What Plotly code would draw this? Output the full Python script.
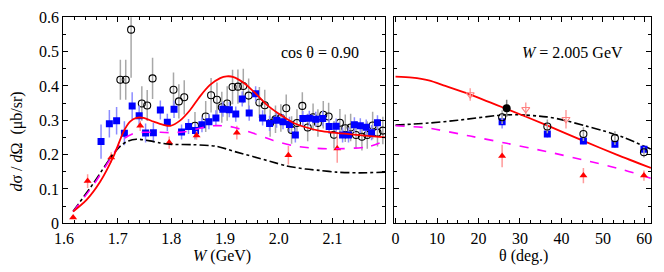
import plotly.graph_objects as go

# ---------------- Left panel data (cos theta = 0.90) ----------------
W_sq = [1.669, 1.6845, 1.698, 1.7125, 1.727, 1.740, 1.752, 1.7665, 1.7795, 1.7925, 1.805, 1.819,
        1.832, 1.845, 1.857, 1.870, 1.883, 1.896, 1.908, 1.920, 1.932, 1.945, 1.957, 1.970, 1.983,
        1.996, 2.008, 2.020, 2.031, 2.045, 2.057, 2.069, 2.082, 2.094, 2.107, 2.119, 2.130, 2.141,
        2.152, 2.163, 2.173, 2.184]
sig_sq = [0.238, 0.290, 0.299, 0.262, 0.342, 0.313, 0.263, 0.264, 0.330, 0.294, 0.332, 0.266,
          0.282, 0.270, 0.287, 0.296, 0.307, 0.332, 0.331, 0.318, 0.362, 0.321, 0.377, 0.307, 0.291,
          0.300, 0.296, 0.288, 0.257, 0.305, 0.306, 0.303, 0.305, 0.282, 0.283, 0.257, 0.257, 0.287,
          0.284, 0.280, 0.264, 0.293]
err_sq = [0.05, 0.04, 0.04, 0.035, 0.04, 0.03, 0.028, 0.028, 0.028, 0.025, 0.025, 0.022,
          0.022, 0.022, 0.022, 0.022, 0.022, 0.022, 0.022, 0.022, 0.022, 0.022, 0.022, 0.022, 0.022,
          0.022, 0.022, 0.022, 0.022, 0.022, 0.022, 0.022, 0.022, 0.022, 0.022, 0.022, 0.022, 0.022,
          0.022, 0.022, 0.022, 0.022]

W_ci = [1.705, 1.715, 1.725, 1.745, 1.755, 1.765, 1.804, 1.814, 1.824, 1.844, 1.864, 1.874,
        1.885, 1.894, 1.904, 1.914, 1.924, 1.934, 1.944, 1.964, 1.974, 1.984, 1.994, 2.004, 2.014,
        2.024, 2.034, 2.044, 2.054, 2.064, 2.073, 2.083, 2.093, 2.103, 2.114, 2.124, 2.134, 2.144,
        2.155, 2.165, 2.175, 2.184, 2.194]
sig_ci = [0.418, 0.418, 0.564, 0.349, 0.343, 0.422, 0.389, 0.355, 0.367, 0.284, 0.311, 0.373,
          0.360, 0.338, 0.349, 0.397, 0.398, 0.400, 0.372, 0.352, 0.344, 0.292, 0.303, 0.307, 0.335,
          0.272, 0.292, 0.342, 0.279, 0.309, 0.292, 0.316, 0.311, 0.258, 0.293, 0.277, 0.279, 0.257,
          0.252, 0.257, 0.285, 0.264, 0.270]
err_ci = [0.058, 0.058, 0.14, 0.05, 0.045, 0.06, 0.05, 0.05, 0.05, 0.04, 0.045, 0.05,
          0.05, 0.045, 0.05, 0.05, 0.05, 0.05, 0.05, 0.045, 0.045, 0.04, 0.04, 0.04, 0.04,
          0.04, 0.04, 0.04, 0.04, 0.04, 0.04, 0.04, 0.04, 0.04, 0.04, 0.04, 0.04, 0.04,
          0.04, 0.04, 0.04, 0.04, 0.04]

W_tr = [1.617, 1.644, 1.688, 1.742, 1.796, 1.847, 1.922, 2.018, 2.109]
sig_tr = [0.017, 0.123, 0.192, 0.284, 0.235, 0.256, 0.264, 0.198, 0.218]
err_tr = [0.0, 0.02, 0.015, 0.015, 0.018, 0.013, 0.02, 0.027, 0.042]

# Model curves (left)
W_red = [1.617, 1.642, 1.667, 1.692, 1.711, 1.723, 1.735, 1.748, 1.767, 1.785, 1.798, 1.816, 1.835,
         1.853, 1.872, 1.891, 1.903, 1.916, 1.934, 1.953, 1.978, 2.003, 2.027, 2.052, 2.077, 2.102,
         2.15, 2.198]
sig_red = [0.034, 0.068, 0.12, 0.194, 0.267, 0.296, 0.307, 0.307, 0.296, 0.287, 0.284, 0.299, 0.330,
           0.369, 0.403, 0.423, 0.428, 0.426, 0.410, 0.384, 0.345, 0.316, 0.293, 0.279, 0.269, 0.264,
           0.257, 0.250]
W_mag = [1.617, 1.655, 1.689, 1.711, 1.73, 1.748, 1.78, 1.80, 1.83, 1.853, 1.878, 1.909, 1.953, 1.99,
         2.027, 2.065, 2.108, 2.166, 2.198]
sig_mag = [0.034, 0.112, 0.194, 0.245, 0.262, 0.265, 0.265, 0.264, 0.268, 0.277, 0.284, 0.282, 0.262,
           0.241, 0.226, 0.219, 0.217, 0.223, 0.240]
W_blk = [1.617, 1.655, 1.689, 1.705, 1.72, 1.735, 1.76, 1.779, 1.80, 1.841, 1.885, 1.92, 1.953, 1.985,
         2.015, 2.05, 2.077, 2.108, 2.15, 2.198]
sig_blk = [0.035, 0.117, 0.196, 0.225, 0.240, 0.245, 0.240, 0.234, 0.230, 0.229, 0.224, 0.208, 0.194,
           0.180, 0.167, 0.158, 0.154, 0.149, 0.147, 0.149]

# ---------------- Right panel data (W = 2.005 GeV) ----------------
th_pk = [18.0, 31.4, 41.1]
sig_pk = [0.375, 0.332, 0.303]
err_pk = [0.018, 0.02, 0.027]
th_fc = [26.8]
sig_fc = [0.335]
err_fc = [0.025]
th_ci = [25.7, 36.6, 45.3, 52.9, 59.9]
sig_ci2 = [0.309, 0.282, 0.260, 0.248, 0.207]
err_ci2 = [0.02, 0.02, 0.02, 0.02, 0.015]
th_sq = [25.7, 36.6, 45.3, 52.9, 59.9]
sig_sq2 = [0.296, 0.260, 0.240, 0.230, 0.216]
err_sq2 = [0.02, 0.01, 0.01, 0.01, 0.01]
th_tr = [25.7, 45.3, 59.9]
sig_tr2 = [0.196, 0.139, 0.139]
err_tr2 = [0.033, 0.022, 0.015]

th_red = [0, 4, 8, 12, 18, 26.8, 36.4, 45.3, 53.3, 61.6]
sig_red2 = [0.427, 0.424, 0.416, 0.400, 0.375, 0.333, 0.286, 0.240, 0.200, 0.161]
th_blk = [0, 8, 15, 25.5, 30, 36.4, 40, 46, 50, 55, 61.6]
sig_blk2 = [0.286, 0.292, 0.300, 0.315, 0.316, 0.310, 0.302, 0.283, 0.270, 0.250, 0.216]
th_mag = [0, 7.5, 18, 26.8, 36.4, 46.9, 54.9, 61.6]
sig_mag2 = [0.284, 0.278, 0.254, 0.233, 0.209, 0.180, 0.156, 0.131]

FONT = "Liberation Serif"
RED = "#ff0000"
MAG = "#ff00ff"
BLUE = "#0000ff"

fig = go.Figure()


def line(x, y, color, dash, xa, ya, width=1.6):
    fig.add_trace(go.Scatter(x=x, y=y, mode="lines", xaxis=xa, yaxis=ya,
                             line=dict(color=color, width=width, dash=dash, shape="spline", smoothing=0.8),
                             hoverinfo="skip", showlegend=False))


def pts(x, y, e, symbol, color, ecolor, xa, ya, size=7, lw=1.0, lcolor=None):
    fig.add_trace(go.Scatter(x=x, y=y, mode="markers", xaxis=xa, yaxis=ya,
                             marker=dict(symbol=symbol, size=size, color=color,
                                         line=dict(width=lw, color=lcolor if lcolor else color)),
                             error_y=dict(type="data", array=e, visible=True, color=ecolor,
                                          thickness=1.5, width=0),
                             showlegend=False))


# left panel
pts(W_ci, sig_ci, err_ci, "circle-open", "black", "#a8a8a8", "x", "y", size=7, lw=1.1)
pts(W_sq, sig_sq, err_sq, "square", BLUE, "#8c8cff", "x", "y", size=7, lw=0)
pts(W_tr, sig_tr, err_tr, "triangle-up", RED, "#ff9a9a", "x", "y", size=7, lw=0)
line(W_blk, sig_blk, "black", "dashdot", "x", "y")
line(W_mag, sig_mag, MAG, "dash", "x", "y")
line(W_red, sig_red, RED, "solid", "x", "y", width=1.8)

# right panel
line(th_blk, sig_blk2, "black", "dashdot", "x2", "y2")
line(th_mag, sig_mag2, MAG, "dash", "x2", "y2")
line(th_red, sig_red2, RED, "solid", "x2", "y2", width=1.8)
pts(th_sq, sig_sq2, err_sq2, "square", BLUE, "#8c8cff", "x2", "y2", size=7, lw=0)
pts(th_ci, sig_ci2, err_ci2, "circle-open", "black", "#a8a8a8", "x2", "y2", size=7, lw=1.1)
pts(th_fc, sig_fc, err_fc, "circle", "black", "#808080", "x2", "y2", size=8, lw=0)
pts(th_pk, sig_pk, err_pk, "triangle-down-open", "#ff8080", "#ffa0a0", "x2", "y2", size=7, lw=1.1)
pts(th_tr, sig_tr2, err_tr2, "triangle-up", RED, "#ff9a9a", "x2", "y2", size=7, lw=0)

W_ticks = [1.6, 1.7, 1.8, 1.9, 2.0, 2.1]
W_ticktext = ["1.6", "1.7", "1.8", "1.9", "2.0", "2.1"]
th_ticks = [0, 10, 20, 30, 40, 50, 60]
y_ticks = [0, 0.1, 0.2, 0.3, 0.4, 0.5, 0.6]
y_ticktext = ["0", "0.1", "0.2", "0.3", "0.4", "0.5", "0.6"]

ax_common = dict(showline=True, linecolor="black", linewidth=1, mirror="allticks", ticks="inside",
                 ticklen=5, tickcolor="black", tickwidth=1, showgrid=False, zeroline=False,
                 automargin=False,
                 tickfont=dict(family=FONT, size=16, color="black"))

YDOM = [1 - 223.3 / 272, 1 - 17.3 / 272]

fig.update_layout(
    width=664, height=272, autosize=False,
    margin=dict(l=0, r=0, t=0, b=0, pad=0),
    paper_bgcolor="white", plot_bgcolor="white",
    font=dict(family=FONT, size=16, color="black"),
    xaxis=dict(domain=[63.3 / 664, 385 / 664], range=[1.5987, 2.198], anchor="y",
               tickvals=W_ticks, ticktext=W_ticktext,
               minor=dict(tick0=1.6, dtick=0.02, ticks="inside", ticklen=3, tickcolor="black"),
               **ax_common),
    yaxis=dict(domain=YDOM, range=[0, 0.6], anchor="x", tickvals=y_ticks, ticktext=y_ticktext,
               minor=dict(tick0=0, dtick=0.05, ticks="inside", ticklen=3, tickcolor="black"),
               **ax_common),
    xaxis2=dict(domain=[394.3 / 664, 651 / 664], range=[-0.3, 61.6], anchor="y2",
                tickvals=th_ticks,
                minor=dict(tick0=0, dtick=2.5, ticks="inside", ticklen=3, tickcolor="black"),
                **ax_common),
    yaxis2=dict(domain=YDOM, range=[0, 0.6], anchor="x2", tickvals=y_ticks, showticklabels=False,
                minor=dict(tick0=0, dtick=0.05, ticks="inside", ticklen=3, tickcolor="black"),
                **ax_common),
    annotations=[
        dict(text="<i>d</i>σ / <i>d</i>Ω  (μb/sr)", xref="paper", yref="paper",
             x=16 / 664, y=1 - 141.5 / 272, textangle=-90, showarrow=False,
             font=dict(family=FONT, size=16), xanchor="center", yanchor="middle"),
        dict(text="<i>W</i> (GeV)", xref="paper", yref="paper", x=222 / 664, y=1 - 256 / 272,
             showarrow=False, font=dict(family=FONT, size=16), xanchor="center", yanchor="middle"),
        dict(text="θ (deg.)", xref="paper", yref="paper", x=523 / 664, y=1 - 256 / 272,
             showarrow=False, font=dict(family=FONT, size=16), xanchor="center", yanchor="middle"),
        dict(text="cos θ = 0.90", xref="paper", yref="paper", x=320 / 664, y=1 - 53 / 272,
             showarrow=False, font=dict(family=FONT, size=16), xanchor="center", yanchor="middle"),
        dict(text="<i>W</i> = 2.005 GeV", xref="paper", yref="paper", x=572 / 664, y=1 - 53 / 272,
             showarrow=False, font=dict(family=FONT, size=16), xanchor="center", yanchor="middle"),
    ],
)

fig.write_html("out.html", config={"displayModeBar": False})

# remove the browser's default page margin so the figure sits at (0, 0)
with open("out.html", "r", encoding="utf-8") as f:
    html = f.read()
html = html.replace("<body>", '<body style="margin:0;padding:0;overflow:hidden">', 1)
with open("out.html", "w", encoding="utf-8") as f:
    f.write(html)
